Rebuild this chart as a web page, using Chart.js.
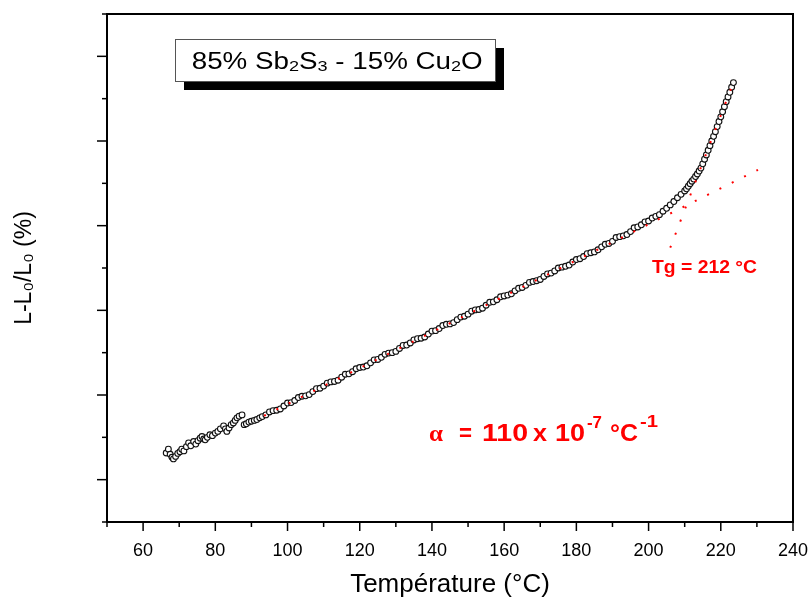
<!DOCTYPE html>
<html><head><meta charset="utf-8">
<script src="https://cdn.jsdelivr.net/npm/chart.js@4/dist/chart.umd.min.js"></script>
<style>html,body{margin:0;padding:0;background:#fff;}#wrap{width:811px;height:600px;}</style>
</head><body><div id="wrap"><canvas id="c" width="811" height="600"></canvas></div>
<script>
const FONT = '"Liberation Sans", Arial, Helvetica, sans-serif';
const xTitle = 'Température (°C)';
const yTitle = 'L-L₀/L₀ (%)';
const xMajorTicks = [60, 80, 100, 120, 140, 160, 180, 200, 220, 240];

// dilatometric curve, noisy start
const tempStart = [66.4,67.0,67.5,68.0,68.4,69.0,69.6,70.2,70.7,71.3,72.0,72.6,73.2,74.0,74.6,75.2,75.8,76.3,76.8,77.2,77.8,78.5,79.2,80.0,80.7,81.4,82.3,82.8,83.2,83.8,84.4,85.0,85.5,86.0,86.6,87.4,88.0,88.6,89.3,90.0,90.8,91.5,92.3,93.0];
const valStart  = [1.63,1.72,1.60,1.53,1.49,1.55,1.62,1.66,1.72,1.68,1.78,1.87,1.80,1.90,1.84,1.92,1.98,2.02,1.96,1.94,2.00,2.06,2.04,2.10,2.14,2.20,2.27,2.20,2.14,2.22,2.30,2.34,2.40,2.46,2.50,2.53,2.30,2.32,2.36,2.38,2.40,2.42,2.46,2.49];
// linear region
const tempMid = [94,95,96,97,98,99,100,101,102,103,104,105,106,107,108,109,110,111,112,113,114,115,116,117,118,119,120,121,122,123,124,125,126,127,128,129,130,131,132,133,134,135,136,137,138,139,140,141,142,143,144,145,146,147,148,149,150,151,152,153,154,155,156,157,158,159,160,161,162,163,164,165,166,167,168,169,170,171,172,173,174,175,176,177,178,179,180,181,182,183,184,185,186,187,188,189,190,191,192,193,194,195,196,197,198,199,200,201,202,203,204,205,206,207,208,209];
const valMid = [2.53,2.60,2.63,2.64,2.67,2.74,2.81,2.82,2.87,2.94,
2.97,2.98,3.01,3.08,3.15,3.16,3.21,3.28,3.31,3.32,
3.35,3.42,3.49,3.50,3.55,3.62,3.65,3.66,3.69,3.76,
3.83,3.84,3.89,3.96,3.99,4.00,4.03,4.10,4.17,4.18,
4.23,4.30,4.33,4.34,4.37,4.44,4.51,4.52,4.57,4.64,
4.67,4.68,4.71,4.78,4.84,4.86,4.91,4.98,5.01,5.02,
5.05,5.12,5.19,5.20,5.25,5.32,5.34,5.36,5.39,5.46,
5.52,5.54,5.59,5.66,5.68,5.70,5.73,5.80,5.86,5.88,
5.93,6.00,6.02,6.04,6.07,6.14,6.20,6.22,6.27,6.34,
6.36,6.38,6.43,6.50,6.56,6.58,6.63,6.72,6.74,6.76,
6.79,6.86,6.95,6.97,7.02,7.09,7.11,7.18,7.22,7.26,
7.34,7.41,7.49,7.57,7.66,7.74];
// softening region
const tempUpper = [210.0,210.5,211.0,211.5,212.0,212.5,213.0,213.5,214.0,214.5,215.0,215.5,216.0,216.5,217.0,217.5,218.0,218.5,219.0,219.5,220.0,220.5,221.0,221.5,222.0,222.5,223.0,223.5];
const valUpper  = [7.82,7.87,7.93,7.99,8.05,8.10,8.16,8.22,8.29,8.36,8.46,8.57,8.67,8.78,8.89,9.00,9.11,9.22,9.34,9.46,9.57,9.69,9.81,9.93,10.04,10.15,10.27,10.38];

// linear fit (glass) and tangent (softening), red dotted
const fitTemp = [93.5, 230.3];
const fitVal  = [2.51, 8.32];
const tanTemp = [206.0, 223.7];
const tanVal  = [6.48, 10.43];

function pts(t, v){ const n=Math.min(t.length,v.length); const o=[]; for(let i=0;i<n;i++) o.push({x:t[i],y:v[i]}); return o; }
const curve = pts(tempStart,valStart).concat(pts(tempMid,valMid)).concat(pts(tempUpper,valUpper));

function drawFit(ctx, text, x0, x1, base, font, color){
  ctx.save(); ctx.font = font; ctx.fillStyle = color; ctx.textAlign='left'; ctx.textBaseline='alphabetic';
  const w = ctx.measureText(text).width; const sx = (x1-x0)/w;
  ctx.translate(x0, base); ctx.scale(sx,1); ctx.fillText(text,0,0); ctx.restore();
}

const decor = {
  id:'decor',
  afterDraw(chart){
    const {ctx, chartArea:a, scales:{x,y}} = chart;
    ctx.save();
    ctx.strokeStyle='#000'; ctx.lineWidth=2;
    ctx.strokeRect(a.left, a.top, a.right-a.left, a.bottom-a.top);
    ctx.lineWidth=1.5;
    x.ticks.forEach(t=>{
      const px = x.getPixelForValue(t.value);
      const len = (t.value % 20 === 0) ? 9 : 5;
      ctx.beginPath(); ctx.moveTo(px, a.bottom); ctx.lineTo(px, a.bottom+len); ctx.stroke();
    });
    y.ticks.forEach(t=>{
      const py = y.getPixelForValue(t.value);
      const len = (Math.round(t.value) % 2 === 1) ? 10 : 5;
      ctx.beginPath(); ctx.moveTo(a.left, py); ctx.lineTo(a.left-len, py); ctx.stroke();
    });
    ctx.restore();

    // composition label box
    const L = a.left, T = a.top;
    ctx.save();
    ctx.fillStyle='#000'; ctx.fillRect(L+77, T+34, 320, 42);
    ctx.fillStyle='#fff'; ctx.fillRect(L+68, T+25, 320, 42);
    ctx.strokeStyle='#555'; ctx.lineWidth=1; ctx.strokeRect(L+68.5, T+25.5, 320, 42);
    const pieces = [['85% Sb',0],['2',1],['S',0],['3',1],[' - 15% Cu',0],['2',1],['O',0]];
    const big = '23px '+FONT, small = '15px '+FONT;
    let W = 0;
    pieces.forEach(p=>{ ctx.font = p[1]?small:big; W += ctx.measureText(p[0]).width; });
    const sx = 291/W;
    ctx.translate(L+84.7, T+55); ctx.scale(sx,1);
    ctx.fillStyle='#000'; ctx.textBaseline='alphabetic';
    let cx = 0;
    pieces.forEach(p=>{ ctx.font = p[1]?small:big; ctx.fillText(p[0], cx, p[1]?1.5:0); cx += ctx.measureText(p[0]).width; });
    ctx.restore();

    // alpha annotation
    const red = '#ff0000';
    const bf = 'bold 24px '+FONT, sf = 'bold 16px '+FONT;
    drawFit(ctx,'α',  L+322, L+336, T+426.7, 'bold 24px "Liberation Serif", serif', red);
    drawFit(ctx,'=',  L+352, L+365, T+426.7, bf, red);
    drawFit(ctx,'110',L+375, L+421, T+426.7, bf, red);
    drawFit(ctx,'x',  L+426, L+440, T+426.7, bf, red);
    drawFit(ctx,'10', L+448, L+478, T+426.7, bf, red);
    drawFit(ctx,'-7', L+480, L+495, T+414.3, sf, red);
    drawFit(ctx,'°C', L+503, L+531, T+426.7, bf, red);
    drawFit(ctx,'-1', L+533, L+551, T+412.7, sf, red);
    // Tg annotation
    drawFit(ctx,'Tg = 212 °C', L+545, L+650, T+259.3, 'bold 18px '+FONT, red);
  }
};

new Chart(document.getElementById('c'), {
  type:'scatter',
  data:{datasets:[
    {label:'fit', data:pts(fitTemp,fitVal), showLine:true, borderColor:'#ff0000', borderWidth:2, borderDash:[2,11.75], pointRadius:0, fill:false, order:0},
    {label:'tangent', data:pts(tanTemp,tanVal), showLine:true, borderColor:'#ff0000', borderWidth:2, borderDash:[2,12], pointRadius:0, fill:false, order:0},
    {label:'L-L0/L0', data:curve, showLine:true, borderColor:'#222', borderWidth:4,
      segment:{borderColor: c => (c.p0.parsed.x >= 93 && c.p1.parsed.x <= 210.1) ? '#222' : 'rgba(0,0,0,0)'},
      pointRadius:2.9, pointBorderWidth:1.1, pointBorderColor:'#111', pointBackgroundColor:'#fff', fill:false, order:1}
  ]},
  options:{
    responsive:false, animation:false, devicePixelRatio:1,
    plugins:{legend:{display:false}, tooltip:{enabled:false}},
    layout:{padding:{top:14,right:18,left:0,bottom:0}},
    scales:{
      x:{type:'linear', min:50, max:240,
        ticks:{stepSize:10, autoSkip:false, maxRotation:0, color:'#000', padding:10,
          font:{family:FONT,size:18},
          callback:v => xMajorTicks.includes(v) ? String(v) : ''},
        grid:{display:false}, border:{display:false},
        title:{display:true, text:xTitle, color:'#000', font:{family:FONT,size:26}, padding:{top:0,bottom:0}},
        afterFit:s=>{ s.height=78; s.paddingLeft=0; s.paddingRight=0; }},
      y:{type:'linear', min:0, max:12,
        ticks:{display:false, stepSize:1},
        grid:{display:false}, border:{display:false},
        title:{display:true, text:yTitle, color:'#000', font:{family:FONT,size:23}, padding:{top:11,bottom:0}},
        afterFit:s=>{ s.width=107; s.paddingTop=0; s.paddingBottom=0; }}
    }
  },
  plugins:[decor]
});
</script></body></html>
